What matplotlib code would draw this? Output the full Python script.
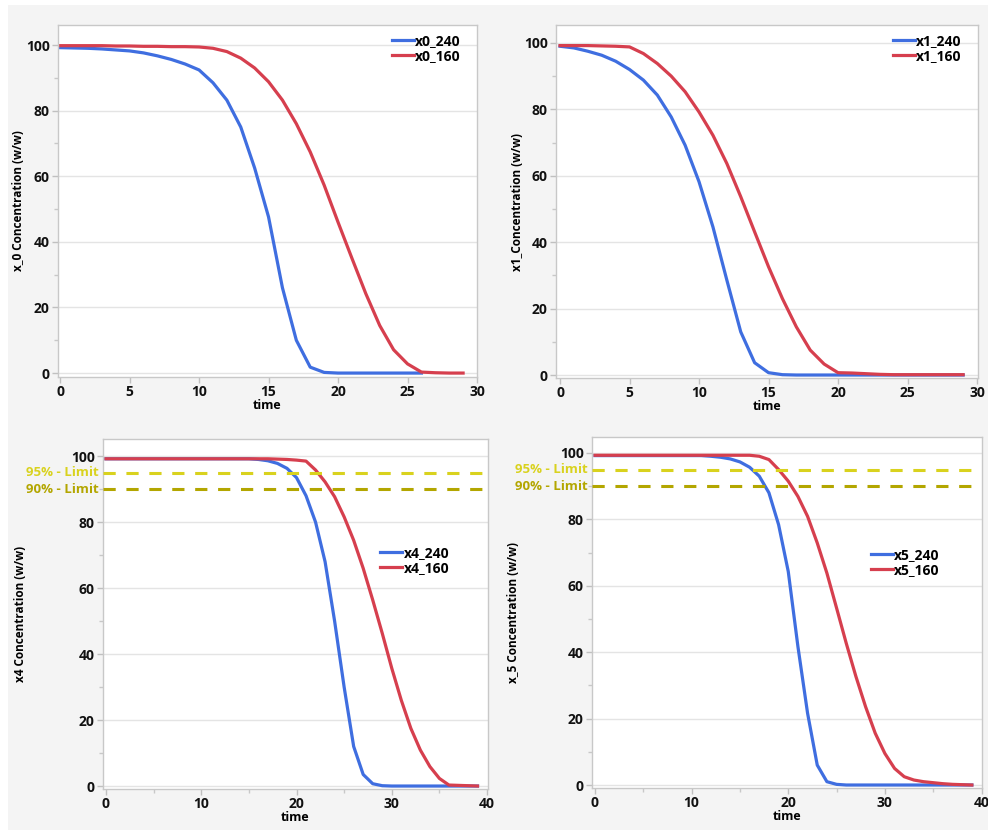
import matplotlib.pyplot as plt
from matplotlib.patches import Rectangle
from matplotlib.ticker import MultipleLocator, NullLocator

plt.rcParams['font.family'] = ['Open Sans', 'DejaVu Sans']
plt.rcParams['font.weight'] = 'bold'

BLUE = '#3f6ee0'
RED = '#d63f4e'
LIM95 = '#d9d21e'
LIM90 = '#b3a600'

# x0 panel
t_x0 = list(range(0, 30))
x0_240 = [99.2, 99.1, 99.0, 98.8, 98.5, 98.2, 97.6, 96.7, 95.6, 94.2,
          92.4, 88.5, 83.2, 75.0, 62.5, 47.6, 26.0, 10.0, 1.8, 0.2,
          0.0, 0.0, 0.0, 0.0, 0.0, 0.0, 0.0, None, None, None]
x0_160 = [99.8, 99.8, 99.8, 99.8, 99.7, 99.7, 99.6, 99.6, 99.5, 99.5,
          99.4, 99.0, 98.0, 96.0, 93.0, 88.8, 83.2, 76.0, 67.4, 57.3,
          46.0, 35.0, 24.2, 14.5, 7.1, 2.8, 0.3, 0.1, 0.0, 0.0]

# x1 panel
t_x1 = list(range(0, 30))
x1_240 = [99.0, 98.5, 97.5, 96.3, 94.5, 92.0, 88.8, 84.3, 77.7, 69.2,
          58.2, 44.6, 28.6, 13.0, 3.7, 0.7, 0.1, 0.0, 0.0, 0.0,
          0.0, 0.0, 0.0, 0.0, 0.0, 0.0, 0.0, 0.0, 0.0, 0.0]
x1_160 = [99.2, 99.2, 99.2, 99.1, 99.0, 98.8, 96.8, 93.8, 90.0, 85.3,
          79.2, 72.2, 63.7, 53.7, 43.1, 32.6, 23.0, 14.5, 7.5, 3.3,
          0.7, 0.6, 0.4, 0.2, 0.1, 0.1, 0.1, 0.1, 0.1, 0.1]

# x4 panel
t_x4 = list(range(0, 40))
x4_240 = [99.2] * 16 + [99.0, 98.6, 97.8, 96.3, 93.5, 88.0, 80.0, 68.0, 50.0, 30.0,
                        12.0, 3.5, 0.7, 0.1] + [0.0] * 10
x4_160 = [99.2] * 18 + [99.1, 99.0, 98.8, 98.5, 95.8, 92.2, 87.7, 81.6, 74.5, 66.0,
                        56.4, 46.3, 35.7, 26.0, 17.5, 10.9, 5.9, 2.3, 0.3, 0.2,
                        0.1, 0.0]

# x5 panel
t_x5 = list(range(0, 40))
x5_240 = [99.2] * 12 + [99.0, 98.7, 98.2, 97.3, 95.7, 93.0, 88.0, 78.4, 64.3, 41.7,
                        21.6, 6.0, 1.0, 0.2] + [0.0] * 14
x5_160 = [99.3] * 16 + [99.3, 99.0, 98.0, 95.0, 91.5, 86.9, 80.9, 72.9, 63.8, 53.3,
                        42.7, 32.7, 23.6, 15.6, 9.5, 5.0, 2.5, 1.5, 1.0, 0.7,
                        0.4, 0.2, 0.1, 0.0]

limits = [95, 90]
limit_labels = ['95% - Limit', '90% - Limit']


def px_axes(fig, left, top, right, bottom):
    W, H = 988.0, 830.0
    return fig.add_axes([left / W, 1 - bottom / H, (right - left) / W, (bottom - top) / H])


def style(ax, xlim, ylim, xmajor, xminor, ylabel, ylab_x):
    ax.set_xlim(*xlim)
    ax.set_ylim(*ylim)
    ax.xaxis.set_major_locator(MultipleLocator(xmajor))
    if xminor:
        ax.xaxis.set_minor_locator(MultipleLocator(xminor))
    else:
        ax.xaxis.set_minor_locator(NullLocator())
    ax.yaxis.set_major_locator(MultipleLocator(20))
    ax.yaxis.set_minor_locator(MultipleLocator(10))
    ax.grid(True, which='major', axis='y', color='#e4e4e4', lw=1.0)
    ax.set_axisbelow(True)
    for s in ax.spines.values():
        s.set_color('#c8c8c8')
        s.set_linewidth(1.0)
    ax.tick_params(which='major', length=4, width=1, color='#c0c0c0',
                   labelsize=10, labelcolor='#111111', pad=2)
    ax.tick_params(which='minor', length=3, width=1, color='#c8c8c8')
    for lab in ax.get_xticklabels() + ax.get_yticklabels():
        lab.set_fontweight('bold')
    ax.set_xlabel('time', fontsize=9, fontweight='bold', labelpad=0)
    ax.set_ylabel(ylabel, fontsize=8.5, fontweight='bold')
    ax.yaxis.set_label_coords(ylab_x, 0.5)
    ax.set_facecolor('white')


def draw(ax, t, a, b, names):
    ta = [ti for ti, v in zip(t, a) if v is not None]
    va = [v for v in a if v is not None]
    ax.plot(ta, va, color=BLUE, lw=2.3, label=names[0], solid_joinstyle='round')
    ax.plot(t, b, color=RED, lw=2.3, label=names[1], solid_joinstyle='round')


def draw_limits(ax):
    for val, lab, col in zip(limits, limit_labels, [LIM95, LIM90]):
        ax.axhline(val, color=col, lw=2.2, ls=(0, (4, 3.5)), zorder=3)
        ax.annotate(lab, xy=(0, val), xycoords=('axes fraction', 'data'),
                    xytext=(-3, 0), textcoords='offset points',
                    ha='right', va='center', color=col,
                    fontsize=9.5, fontweight='bold')


def add_legend(ax, **kw):
    ax.legend(frameon=False, handlelength=1.6, handletextpad=0.1, labelspacing=0.05,
              prop={'size': 10, 'weight': 'bold'}, borderaxespad=0, **kw)


fig = plt.figure(figsize=(9.88, 8.30), dpi=100, facecolor='white')
fig.patches.append(Rectangle((8 / 988, 0), 1, 1 - 5 / 830, transform=fig.transFigure,
                             facecolor='#f4f4f4', edgecolor='none', zorder=-10))

ax1 = px_axes(fig, 58, 25, 477, 377)
draw(ax1, t_x0, x0_240, x0_160, ['x0_240', 'x0_160'])
style(ax1, (-0.15, 30), (-1.2, 106.1), 5, None, 'x_0 Concentration (w/w)', -0.079)
add_legend(ax1, loc='upper right', bbox_to_anchor=(0.975, 0.99))

ax2 = px_axes(fig, 556, 25, 978, 378)
draw(ax2, t_x1, x1_240, x1_160, ['x1_240', 'x1_160'])
style(ax2, (-0.29, 30.07), (-0.9, 105.4), 5, None, 'x1_Concentration (w/w)', -0.076)
add_legend(ax2, loc='upper right', bbox_to_anchor=(0.975, 0.99))

ax3 = px_axes(fig, 103, 439, 488, 789)
draw(ax3, t_x4, x4_240, x4_160, ['x4_240', 'x4_160'])
style(ax3, (-0.31, 40.1), (-0.9, 105.2), 10, 5, 'x4 Concentration (w/w)', -0.197)
draw_limits(ax3)
add_legend(ax3, loc='upper left', bbox_to_anchor=(0.705, 0.71))

ax4 = px_axes(fig, 592, 437, 982, 788)
draw(ax4, t_x5, x5_240, x5_160, ['x5_240', 'x5_160'])
style(ax4, (-0.31, 40.05), (-0.9, 104.8), 10, 5, 'x_5 Concentration (w/w)', -0.185)
draw_limits(ax4)
add_legend(ax4, loc='upper left', bbox_to_anchor=(0.70, 0.70))

fig.savefig('out.png', dpi=100, facecolor=fig.get_facecolor())
